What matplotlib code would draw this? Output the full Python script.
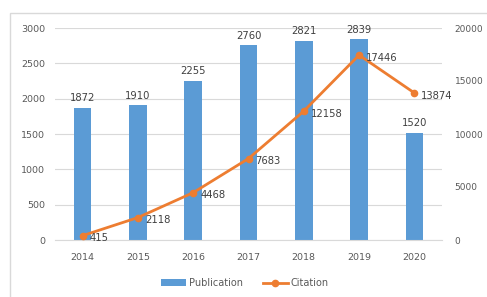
import matplotlib.pyplot as plt
from matplotlib.patches import Rectangle
from matplotlib.lines import Line2D

# 数据
years = ['2014', '2015', '2016', '2017', '2018', '2019', '2020']
publications = [1872, 1910, 2255, 2760, 2821, 2839, 1520]
citations = [415, 2118, 4468, 7683, 12158, 17446, 13874]

bar_color = '#5B9BD5'
line_color = '#ED7D31'
text_color = '#595959'
grid_color = '#D9D9D9'

plt.rcParams['font.family'] = ['DejaVu Sans']

fig = plt.figure(figsize=(4.87, 2.97), dpi=100)
fig.patch.set_facecolor('white')

# 外框
fig.add_artist(Rectangle((10 / 487, -0.05), 1.0, 1 - 13 / 297 + 0.05,
                         transform=fig.transFigure, fill=False,
                         edgecolor='#D9D9D9', linewidth=1))

ax = fig.add_axes([55 / 487, 1 - 240 / 297, 387 / 487, 212 / 297])
x = list(range(len(years)))

ax.bar(x, publications, width=0.32, color=bar_color, zorder=2)
ax.set_xlim(-0.5, 6.5)
ax.set_ylim(0, 3000)
ax.set_yticks(range(0, 3001, 500))
ax.set_xticks(x)
ax.set_xticklabels(years)
ax.grid(axis='y', color=grid_color, linewidth=0.8, zorder=0)
for s in ax.spines.values():
    s.set_visible(False)
ax.spines['bottom'].set_visible(True)
ax.spines['bottom'].set_color(grid_color)
ax.tick_params(axis='y', length=0, labelsize=6.8, colors=text_color, pad=7)
ax.tick_params(axis='x', length=0, labelsize=6.8, colors=text_color, pad=9)

for xi, v in zip(x, publications):
    ax.text(xi, v + 60, str(v), ha='center', va='bottom', fontsize=7.2,
            color='#404040')

ax2 = ax.twinx()
ax2.plot(x, citations, color=line_color, linewidth=2, marker='o',
         markersize=4.5, zorder=3)
ax2.set_ylim(0, 20000)
ax2.set_yticks(range(0, 20001, 5000))
for s in ax2.spines.values():
    s.set_visible(False)
ax2.tick_params(length=0, labelsize=6.5, colors=text_color, pad=9)

for xi, v in zip(x, citations):
    ax2.annotate(str(v), (xi, v), xytext=(5, -2), textcoords='offset points',
                 ha='left', va='center', fontsize=7.2, color='#404040')

handles = [Rectangle((0, 0), 1, 1, facecolor=bar_color),
           Line2D([0], [0], color=line_color, linewidth=2, marker='o',
                  markersize=4.5)]
fig.legend(handles, ['Publication', 'Citation'], loc='center',
           bbox_to_anchor=(245 / 487, 1 - 283 / 297), ncol=2, frameon=False,
           fontsize=7, labelcolor=text_color, handlelength=2.6,
           columnspacing=2.0, handletextpad=0.3)

fig.savefig('out.png', dpi=100)
